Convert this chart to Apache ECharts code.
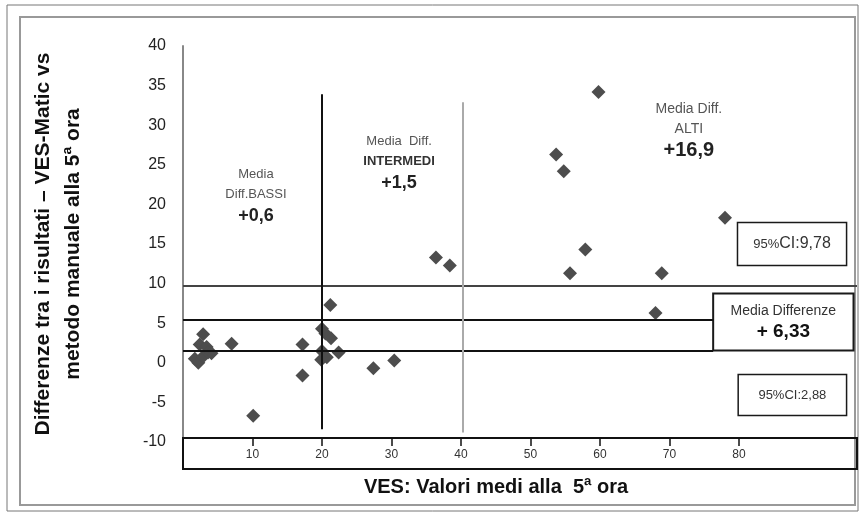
<!DOCTYPE html>
<html><head><meta charset="utf-8">
<script src="https://cdn.jsdelivr.net/npm/echarts@6/dist/echarts.min.js"></script>
<style>html,body{margin:0;padding:0;background:#fff}#c{width:859px;height:512px}</style>
</head><body><div id="c"></div>
<script>
// ---- data ----
const vesMean = [1.7, 2.2, 2.4, 2.9, 2.9, 3.4, 3.6, 4.1, 7.0, 10.1,
                 17.2, 17.2, 20.0, 20.5, 21.3, 21.2, 20.0, 19.9, 20.7, 22.4, 27.4, 30.4,
                 36.4, 38.4,
                 53.7, 54.8, 59.8, 57.9, 55.7, 68.9, 68.0, 78.0];
const diffValues = [0.5, 0.0, 2.3, 3.6, 0.8, 2.0, 1.3, 1.2, 2.4, -6.7,
                    2.3, -1.6, 4.3, 3.7, 3.1, 7.3, 1.5, 0.4, 0.7, 1.3, -0.7, 0.3,
                    13.3, 12.3,
                    26.3, 24.2, 34.2, 14.3, 11.3, 11.3, 6.3, 18.3];
const xTickLabels = [10, 20, 30, 40, 50, 60, 70, 80];
const yTickLabels = [-10, -5, 0, 5, 10, 15, 20, 25, 30, 35, 40];
// reference lines as drawn (upper CI, mean, lower CI levels)
const lineLevels = [9.7, 5.4, 1.55];
const lineEndX = [97, 76.3, 76.3];
// group dividers
const dividerX = [20, 40.2];
const dividerFrom = [-8.4, -8.8];
const dividerTo = [33.9, 32.9];
// group annotations
const groupTitle = [['Media', 'Diff.BASSI'], ['Media  Diff.', 'INTERMEDI'], ['Media Diff.', 'ALTI']];
const groupMean = ['+0,6', '+1,5', '+16,9'];
const groupAt = [[10.5, 21.0], [31.1, 25.2], [72.8, 29.3]];
const meanText = ['Media Differenze', '+ 6,33'];
const ciHighText = ['95%', 'CI:9,78'];
const ciLowText = '95%CI:2,88';

const FONT = 'Liberation Sans';
const chart = echarts.init(document.getElementById('c'), null, {renderer: 'canvas'});

const points = vesMean.map((x, i) => [x, diffValues[i]]);

const lineStyles = [
  {color: '#444', width: 2, type: 'solid'},
  {color: '#111', width: 2, type: 'solid'},
  {color: '#111', width: 2, type: 'solid'}
];
const markLines = lineLevels.map((v, i) => [
  {coord: [0, v], lineStyle: lineStyles[i]},
  {coord: [lineEndX[i], v]}
]);
markLines.push([{coord: [dividerX[0], dividerFrom[0]], lineStyle: {color: '#111', width: 2, type: 'solid'}}, {coord: [dividerX[0], dividerTo[0]]}]);
markLines.push([{coord: [dividerX[1], dividerFrom[1]], lineStyle: {color: '#aaa', width: 2, type: 'solid'}}, {coord: [dividerX[1], dividerTo[1]]}]);

const groupRich = {
  a: {fontFamily: FONT, fontSize: 13, color: '#555', lineHeight: 20},
  ab: {fontFamily: FONT, fontSize: 13, color: '#333', fontWeight: 'bold', lineHeight: 20},
  al: {fontFamily: FONT, fontSize: 14, color: '#555', lineHeight: 20},
  b: {fontFamily: FONT, fontSize: 18, color: '#222', fontWeight: 'bold', lineHeight: 24},
  bl: {fontFamily: FONT, fontSize: 20, color: '#222', fontWeight: 'bold', lineHeight: 24}
};
const markPoints = groupTitle.map((t, i) => {
  const a = i === 2 ? 'al' : 'a';
  const a2 = i === 1 ? 'ab' : a;
  const b = i === 2 ? 'bl' : 'b';
  return {
    coord: groupAt[i],
    label: {formatter: '{' + a + '|' + t[0] + '}\n{' + a2 + '|' + t[1] + '}\n{' + b + '|' + groupMean[i] + '}'}
  };
});

const boxStyle = (w) => ({color: '#fff', borderColor: '#1a1a1a', borderWidth: w});
const markAreas = [
  [{coord: [79.8, 17.7], itemStyle: boxStyle(1.5),
    label: {formatter: '{s|' + ciHighText[0] + '}{m|' + ciHighText[1] + '}'}},
   {coord: [95.5, 12.3]}],
  [{coord: [76.3, 8.75], itemStyle: boxStyle(2),
    label: {formatter: '{t|' + meanText[0] + '}\n{v|' + meanText[1] + '}'}},
   {coord: [96.5, 1.55]}],
  [{coord: [79.9, -1.48], itemStyle: boxStyle(1.5),
    label: {formatter: '{s2|' + ciLowText + '}'}},
   {coord: [95.5, -6.65]}]
];

chart.setOption({
  animation: false,
  backgroundColor: '#fff',
  grid: {left: 183, right: 2, top: 46, bottom: 70, containLabel: false, outerBoundsMode: 'none'},
  xAxis: {
    type: 'value', min: 0, max: 97, interval: 10, offset: -4,
    axisLine: {show: true, onZero: false, lineStyle: {color: '#111', width: 2}},
    axisTick: {show: true, customValues: xTickLabels, length: 8, lineStyle: {color: '#111', width: 1.5}},
    axisLabel: {customValues: xTickLabels, fontFamily: FONT, fontSize: 12, color: '#333', margin: 11},
    splitLine: {show: false},
    name: 'VES: Valori medi alla  5ª ora',
    nameLocation: 'middle', nameGap: 39,
    nameTextStyle: {fontFamily: FONT, fontSize: 20, fontWeight: 'bold', color: '#111', padding: [0, 48, 0, 0]}
  },
  yAxis: {
    type: 'value', min: -10, max: 40, interval: 5,
    axisLine: {show: true, lineStyle: {color: '#888', width: 2}},
    axisTick: {show: false},
    axisLabel: {fontFamily: FONT, fontSize: 16, color: '#222', margin: 17,
      customValues: yTickLabels},
    splitLine: {show: false},
    name: 'Differenze tra i risultati – VES-Matic vs\nmetodo manuale alla 5ª ora',
    nameLocation: 'middle', nameRotate: 90, nameGap: 95,
    nameTextStyle: {fontFamily: FONT, fontSize: 21, fontWeight: 'bold', color: '#111', lineHeight: 30}
  },
  series: [{
    type: 'scatter',
    symbol: 'diamond',
    symbolSize: 14,
    itemStyle: {color: '#4d4d4d', opacity: 1},
    data: points,
    markLine: {silent: true, symbol: 'none', animation: false, label: {show: false}, data: markLines},
    markArea: {silent: true, data: markAreas,
      label: {show: true, position: 'inside', color: '#333',
        rich: {
          s: {fontFamily: FONT, fontSize: 13, color: '#333'},
          s2: {fontFamily: FONT, fontSize: 13, color: '#333'},
          m: {fontFamily: FONT, fontSize: 16, color: '#333'},
          t: {fontFamily: FONT, fontSize: 14, color: '#333', lineHeight: 20},
          v: {fontFamily: FONT, fontSize: 19, fontWeight: 'bold', color: '#111', lineHeight: 22}
        }}},
    markPoint: {silent: true, symbol: 'rect', symbolSize: 1, itemStyle: {color: 'rgba(0,0,0,0)'},
      label: {show: true, position: 'inside', rich: groupRich}, data: markPoints}
  }]
});

// frames and x-axis box, derived from the axes
const xL = chart.convertToPixel({xAxisIndex: 0}, 0);
const xR = chart.convertToPixel({xAxisIndex: 0}, 97);
const yB = chart.convertToPixel({yAxisIndex: 0}, -10) - 4;
chart.setOption({
  graphic: [
    {type: 'rect', shape: {x: 7, y: 5, width: 851, height: 506}, style: {fill: 'none', stroke: '#777', lineWidth: 1}, silent: true},
    {type: 'rect', shape: {x: 20, y: 17, width: 835, height: 488}, style: {fill: 'none', stroke: '#999', lineWidth: 2}, silent: true},
    {type: 'rect', shape: {x: xL, y: yB, width: xR - xL, height: 31}, style: {fill: 'none', stroke: '#111', lineWidth: 2}, silent: true, z: 10}
  ]
});
</script></body></html>
